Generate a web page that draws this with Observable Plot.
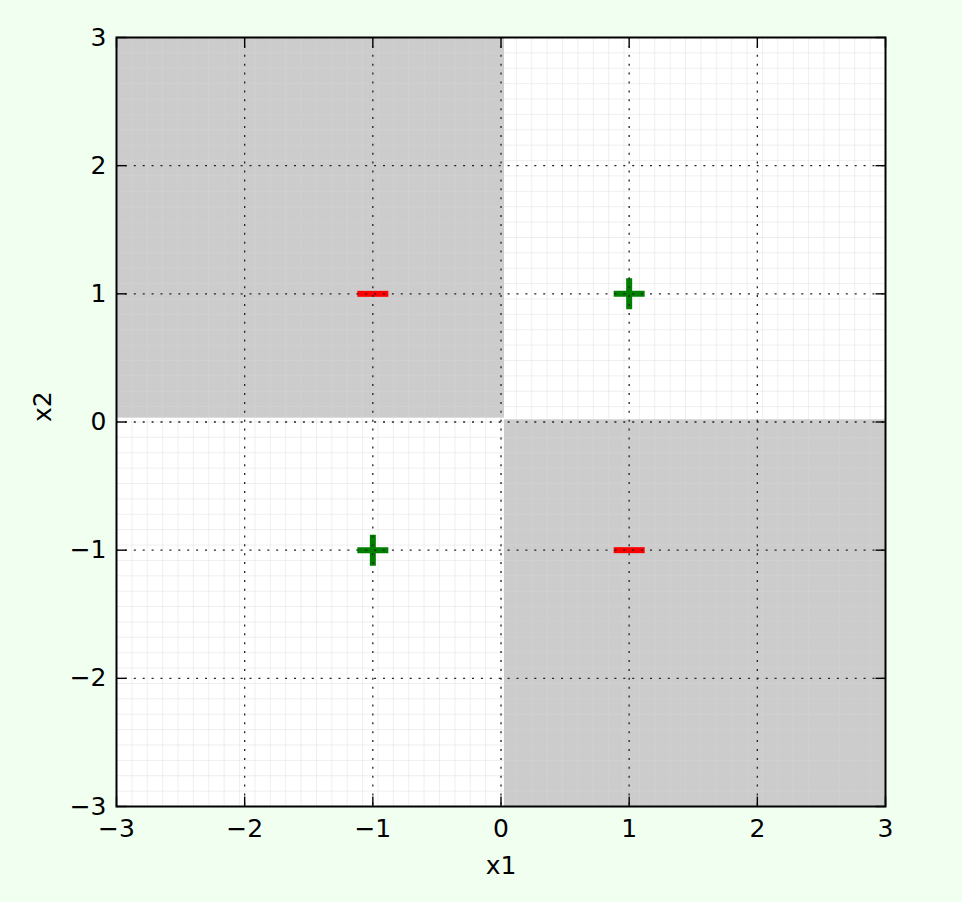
<!DOCTYPE html>
<html>
<head>
<meta charset="utf-8">
<script src="https://cdn.jsdelivr.net/npm/d3@7"></script>
<script src="https://cdn.jsdelivr.net/npm/@observablehq/plot@0.6"></script>
<style>
  html, body { margin: 0; padding: 0; background: #f0fff0; }
  #chart { width: 962px; height: 902px; }
</style>
</head>
<body>
<div id="chart"></div>
<script>
// ---- data ----
const tickValues = [-3, -2, -1, 0, 1, 2, 3];
const posX = [1, -1];
const posY = [1, -1];
const negX = [-1, 1];
const negY = [1, -1];
// shaded (negative) decision regions
const regionX1 = [-3, 0.027];
const regionX2 = [0.027, 3];
const regionY1 = [0.03, -3];
const regionY2 = [3, 0.017];
const regions = regionX1.map((d, i) => ({x1: d, x2: regionX2[i], y1: regionY1[i], y2: regionY2[i]}));
// faint mesh lines
const meshValues = d3.range(-2.88, 2.8801, 0.12);

const fmt = d => (d < 0 ? "\u2212" : "") + Math.abs(d);

const lineSym = (segs) => ({
  draw(ctx, size) {
    const r = Math.sqrt(size / Math.PI);
    for (const [x0, y0, x1, y1] of segs) { ctx.moveTo(x0 * r, y0 * r); ctx.lineTo(x1 * r, y1 * r); }
  }
});
const plusSym = lineSym([[-1, 0, 1, 0], [0, -1, 0, 1]]);
const minusSym = lineSym([[-1, 0, 1, 0]]);
const tickUp = lineSym([[0, 0, 0, -1]]);
const tickDown = lineSym([[0, 0, 0, 1]]);
const tickRight = lineSym([[0, 0, 1, 0]]);
const tickLeft = lineSym([[0, 0, -1, 0]]);

const font = "DejaVu Sans";
const fs = 25;
const tickStyle = {r: 10, stroke: "#000", strokeWidth: 1.4, fill: "none"};

const chart = Plot.plot({
  width: 962,
  height: 902,
  marginLeft: 116,
  marginRight: 77,
  marginTop: 37,
  marginBottom: 96,
  x: {domain: [-3, 3], axis: null},
  y: {domain: [-3, 3], axis: null},
  style: {background: "#f0fff0", fontFamily: font},
  marks: [
    Plot.frame({fill: "white"}),
    Plot.rect(regions, {x1: "x1", x2: "x2", y1: "y1", y2: "y2", fill: "#cccccc"}),
    Plot.ruleX(meshValues, {stroke: "#d8d8d8", strokeOpacity: 0.4, strokeWidth: 1}),
    Plot.ruleY(meshValues, {stroke: "#d8d8d8", strokeOpacity: 0.4, strokeWidth: 1}),
    Plot.dot(posX, {x: d => d, y: (d, i) => posY[i], symbol: plusSym, r: 15.5, stroke: "#008000", strokeWidth: 6, fill: "none"}),
    Plot.dot(negX, {x: d => d, y: (d, i) => negY[i], symbol: minusSym, r: 15.5, stroke: "#ff0000", strokeWidth: 6, fill: "none"}),
    Plot.ruleX(tickValues.slice(1, -1), {stroke: "#222", strokeWidth: 1.3, strokeDasharray: "2,6.9"}),
    Plot.ruleY(tickValues.slice(1, -1), {stroke: "#222", strokeWidth: 1.3, strokeDasharray: "2,6.9"}),
    Plot.dot(tickValues, {...tickStyle, x: d => d, y: () => -3, symbol: tickUp}),
    Plot.dot(tickValues, {...tickStyle, x: d => d, y: () => 3, symbol: tickDown}),
    Plot.dot(tickValues, {...tickStyle, y: d => d, x: () => -3, symbol: tickRight}),
    Plot.dot(tickValues, {...tickStyle, y: d => d, x: () => 3, symbol: tickLeft}),
    Plot.frame({stroke: "#000", strokeWidth: 2}),
    Plot.text(tickValues, {x: d => d, frameAnchor: "bottom", dy: 30, lineAnchor: "bottom", text: fmt, fontSize: fs, fill: "#000", fontFamily: font}),
    Plot.text(tickValues, {y: d => d, frameAnchor: "left", dx: -10, textAnchor: "end", lineAnchor: "middle", text: fmt, fontSize: fs, fill: "#000", fontFamily: font}),
    Plot.text(["x1"], {frameAnchor: "bottom", dy: 67, lineAnchor: "bottom", text: d => d, fontSize: fs, fill: "#000", fontFamily: font}),
    Plot.text(["x2"], {frameAnchor: "left", dx: -74, rotate: -90, lineAnchor: "middle", text: d => d, fontSize: fs, fill: "#000", fontFamily: font})
  ]
});
document.getElementById("chart").appendChild(chart);
</script>
</body>
</html>
